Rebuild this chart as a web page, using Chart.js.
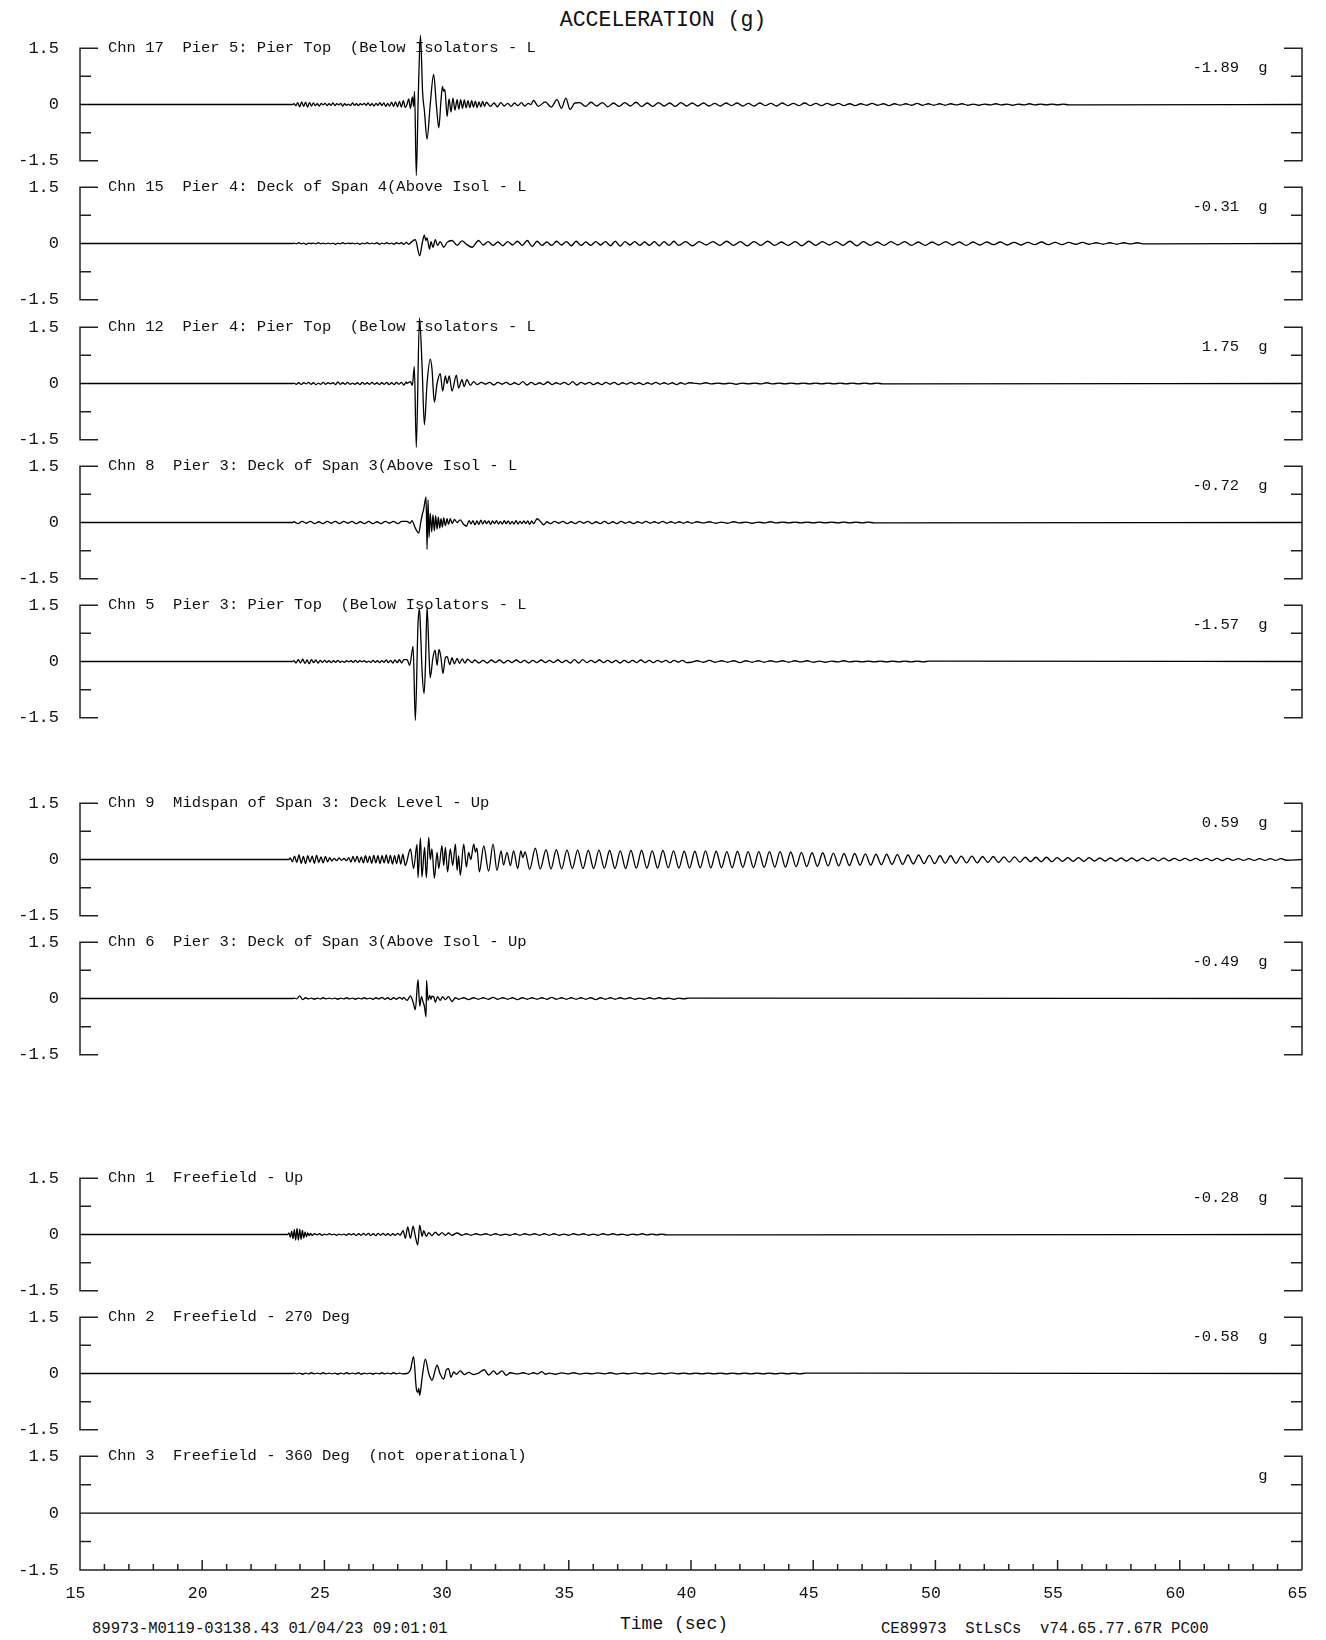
<!DOCTYPE html>
<html>
<head>
<meta charset="utf-8">
<title>ACCELERATION (g)</title>
<script src="https://cdn.jsdelivr.net/npm/chart.js@4.4.1/dist/chart.umd.min.js"></script>
<style>
  html, body { margin: 0; padding: 0; background: #fff; }
  #page { position: relative; width: 1326px; height: 1640px; overflow: hidden;
          font-family: "Liberation Mono", "DejaVu Sans Mono", monospace; color: #111; }
  #page canvas { position: absolute; left: 0; }
  .txt { position: absolute; white-space: pre; line-height: 1; }
</style>
</head>
<body>
<div id="page">
  <div class="txt" style="left:663px; top:21px; font-size:21.5px; transform:translate(-50%,-50%);">ACCELERATION (g)</div>
  <div class="txt" style="left:674px; top:1624px; font-size:18px; transform:translate(-50%,-50%);">Time (sec)</div>
  <div class="txt" style="left:92px; top:1630px; font-size:15.6px; transform:translateY(-50%);">89973-M0119-03138.43 01/04/23 09:01:01</div>
  <div class="txt" style="left:881px; top:1630px; font-size:15.6px; transform:translateY(-50%);">CE89973  StLsCs  v74.65.77.67R PC00</div>
</div>
<script>
// 1. Labels and ticks
const chnLabels = [
  'Chn 17  Pier 5: Pier Top  (Below Isolators - L',
  'Chn 15  Pier 4: Deck of Span 4(Above Isol - L',
  'Chn 12  Pier 4: Pier Top  (Below Isolators - L',
  'Chn 8  Pier 3: Deck of Span 3(Above Isol - L',
  'Chn 5  Pier 3: Pier Top  (Below Isolators - L',
  'Chn 9  Midspan of Span 3: Deck Level - Up',
  'Chn 6  Pier 3: Deck of Span 3(Above Isol - Up',
  'Chn 1  Freefield - Up',
  'Chn 2  Freefield - 270 Deg',
  'Chn 3  Freefield - 360 Deg  (not operational)'
];
const peakLabels = ['-1.89', '-0.31', '1.75', '-0.72', '-1.57', '0.59', '-0.49', '-0.28', '-0.58', ''];
const timeLabels = [15, 20, 25, 30, 35, 40, 45, 50, 55, 60, 65];
const gTicks = [-1.5, 0, 1.5];

// 2. Traces. runs = [start sec, step sec, [g values]], peaks = [sec, g]
const chn17Runs = [
  [23.75, 0.08, [0.02,-0.03,0.05,-0.06,0.07,-0.05,0.06,-0.07,0.05,-0.04,0.04,-0.03,
    0.02,-0.04,0.03,-0.01,0.03,-0.03,0.02,-0.02,0.04,-0.03,0.02,-0.01,
    0.03,-0.04,0.02,-0.02,0.01,-0.03,0.04,-0.02,0.02,-0.03,0.02,-0.01,
    0.03,-0.02,0.04,-0.03,0.02,-0.04,0.03,-0.02,0.05,-0.03,0.04,-0.05,
    0.03,-0.04,0.06,-0.05,0.07,-0.06,0.08,-0.07,0.1,-0.08]],
  [30.5, 0.075, [-0.12,0.13,-0.1,0.12,-0.09,0.1,-0.08,0.1,-0.07,0.09,-0.08,0.07,-0.06,0.08,-0.05,0.06]],
  [31.8, 0.14, [-0.05,0.04,-0.06,0.05,-0.04,0.03,-0.05,0.04,-0.03,0.05,-0.04,0.03]],
  [35.45, 0.23, [0.05,-0.05,0.06,-0.04,0.05,-0.06,0.04,-0.05,0.05,-0.04,0.06,-0.05,0.04,-0.05,0.05,-0.04,0.04,-0.05,0.05,-0.04,0.04,-0.04,
    0.04,-0.04,0.03,-0.04,0.04,-0.03,0.04,-0.04,0.03,-0.04,0.04,-0.03,0.03,-0.04,0.04,-0.03,0.03,-0.03,0.04,-0.03,0.03,-0.03,
    0.03,-0.02,0.03,-0.03,0.02,-0.03,0.02,-0.02,0.03,-0.02,0.02,-0.03,0.02,-0.02,0.02,-0.02,0.03,-0.02,0.02,-0.02,0.02,-0.02,
    0.02,-0.01,0.02,-0.02,0.01,-0.02,0.01,-0.01,0.02,-0.01,0.01,-0.02,0.01,-0.01,0.02,-0.01,0.01,-0.01,0.01,-0.01,0.01,-0.01]]
];
const chn17Peaks = [[23.7,0],[28.38,0],[28.45,0.15],[28.52,-0.1],[28.6,0.2],[28.65,-0.05],[28.69,0.35],[28.76,-1.89],
  [28.84,0.2],[28.93,1.85],[29.02,0.3],[29.09,-0.15],[29.2,-0.92],[29.33,0],[29.47,0.8],[29.58,0],[29.68,-0.62],
  [29.77,0.1],[29.83,0.48],[29.88,0.35],[29.93,0.4],[30.02,-0.32],[30.1,0.15],[30.18,-0.2],[30.26,0.17],[30.34,-0.15],
  [30.43,0.13],[33.45,0],[33.56,0.11],[33.75,-0.05],[34.04,0.07],[34.28,-0.07],[34.52,0.13],[34.7,-0.1],[34.88,0.17],
  [35.05,-0.13],[35.25,0.04]];

const chn15Runs = [
  [23.75, 0.1, [0.01,-0.01,0.02,-0.01,0.01,-0.02,0.01,0,0.01,-0.01,0.02,-0.01,0.01,-0.01,0.01,-0.01,0.01,-0.02,0.01,-0.01,
    0.02,-0.01,0.01,0,0.01,-0.01,0.01,-0.02,0.01,-0.01,0.02,-0.01,0.01,-0.01,0.02,-0.02,0.01,-0.01,0.02,-0.01,
    0.01,-0.02,0.02,-0.01,0.02,-0.02,0.03,-0.02]],
  [31.5, 0.2, [-0.04,0.05,-0.05,0.04,-0.06,0.05,-0.04,0.06,-0.05,0.08,-0.08,0.06,-0.05,0.04,-0.05,0.06,-0.04,0.05,-0.06,0.06,
    -0.05,0.04,-0.05,0.05,-0.04,0.05,-0.06,0.06,-0.07,0.05,-0.04,0.05,-0.05,0.04,-0.05,0.05,-0.06,0.05,-0.05,0.06]],
  [39.5, 0.28, [-0.05,0.05,-0.06,0.05,-0.04,0.05,-0.05,0.06,-0.05,0.05,-0.06,0.05,-0.05,0.06,-0.05,0.04,-0.05,0.05,-0.06,0.06,
    -0.05,0.05,-0.04,0.05,-0.05,0.06,-0.06,0.05,-0.05,0.04,-0.05,0.05,-0.04,0.05,-0.05,0.04,-0.05,0.04,-0.04,0.05,
    -0.04,0.04,-0.05,0.04,-0.04,0.04,-0.03,0.04,-0.04,0.03,-0.04,0.03,-0.03,0.04,-0.03,0.03,-0.03,0.03,-0.02,0.03,
    -0.02,0.02,-0.02,0.02,-0.02,0.02,-0.01,0.02,-0.01]]
];
const chn15Peaks = [[23.7,0],[28.58,0.05],[28.72,0.1],[28.9,-0.33],[29.0,0],[29.09,0.22],[29.15,0.08],[29.2,0.15],[29.3,-0.15],
  [29.36,0.05],[29.44,-0.1],[29.54,0.1],[29.63,-0.05],[29.74,0.05],[29.88,-0.1],[30.02,0.03],[30.22,0.08],[30.43,-0.05],
  [30.63,0.07],[30.83,-0.03],[31.04,-0.1],[31.31,0.08]];

const chn12Runs = [
  [23.75, 0.1, [0.01,-0.02,0.02,-0.03,0.02,-0.01,0.03,-0.02,0.02,-0.03,0.01,-0.02,0.03,-0.02,0.02,-0.01,0.02,-0.03,0.04,-0.02,
    0.02,-0.02,0.03,-0.02,0.01,-0.02,0.02,-0.03,0.03,-0.02,0.02,-0.02,0.03,-0.02,0.02,-0.03,0.02,-0.02,0.03,-0.03,
    0.02,-0.03,0.03,-0.02,0.03,-0.04,0.04]],
  [31.25, 0.17, [-0.03,0.03,-0.02,0.03,-0.04,0.03,-0.02,0.03,-0.03,0.02,-0.03,0.05,-0.04,0.03,-0.03,0.02,-0.03,0.04,-0.03,0.02,
    -0.02,0.03,-0.03,0.05,-0.04,0.03,-0.02,0.03,-0.03,0.02,-0.03,0.03,-0.02,0.03,-0.03,0.02,-0.02,0.03,-0.02,0.02,
    -0.03,0.02,-0.02,0.03,-0.02,0.02,-0.02,0.02,-0.03,0.02,-0.02,0.02]],
  [40.1, 0.25, [0.01,-0.01,0.02,-0.01,0.01,-0.01,0.01,-0.02,0.01,-0.01,0.01,-0.01,0.02,-0.01,0.01,-0.01,0.01,-0.01,0.01,-0.01,
    0.01,-0.01,0.01,-0.01,0.01,-0.01,0.01,-0.01,0.01,-0.01,0.01,-0.01]]
];
const chn12Peaks = [[23.7,0],[28.38,0],[28.52,0.05],[28.6,-0.05],[28.68,0.45],[28.76,-1.7],[28.89,1.75],[29.0,0.4],[29.09,-1.1],
  [29.2,0],[29.33,0.65],[29.4,0.4],[29.5,-0.5],[29.61,0],[29.74,0.26],[29.84,-0.2],[29.95,0.2],[30.02,0],[30.11,0.2],
  [30.22,-0.2],[30.4,0.22],[30.49,-0.12],[30.63,0.1],[30.72,-0.08],[30.83,0.1],[30.97,-0.05],[31.11,0.05]];

const chn8Runs = [
  [23.75, 0.17, [0.02,-0.03,0.03,-0.02,0.03,-0.03,0.02,-0.03,0.03,-0.02,0.03,-0.03,0.03,-0.02,0.03,-0.03,0.02,-0.03,0.03,-0.03,
    0.02,-0.03,0.03,-0.02,0.03,-0.03,0.03]],
  [31.0, 0.08, [-0.04,0.05,-0.06,0.04,-0.05,0.06,-0.04,0.05,-0.03,0.04,-0.05,0.04,-0.03,0.05,-0.04,0.03,-0.04,0.05,-0.03,0.04,
    -0.04,0.03,-0.04,0.05,-0.04,0.03,-0.03,0.04,-0.03,0.04,-0.05,0.04,-0.03]],
  [34.25, 0.17, [-0.03,0.03,-0.02,0.03,-0.03,0.02,-0.03,0.03,-0.02,0.03,-0.03,0.02,-0.03,0.03,-0.03,0.02,-0.03,0.03,-0.02,0.02,
    -0.03,0.02,-0.02,0.03,-0.02,0.02,-0.02,0.03,-0.02,0.02,-0.02,0.02,-0.02,0.02,-0.02]],
  [40.25, 0.25, [0.02,-0.01,0.02,-0.02,0.01,-0.02,0.02,-0.01,0.01,-0.02,0.01,-0.01,0.02,-0.01,0.01,-0.01,0.01,-0.01,0.01,-0.01,
    0.01,-0.01,0.01,-0.01,0.01,-0.01,0.01,-0.01,0.01,-0.01]]
];
const chn8Peaks = [[23.7,0],[28.38,0.03],[28.5,-0.02],[28.58,0.05],[28.72,-0.15],[28.86,-0.28],[28.94,0],[29.0,0.2],[29.06,0.35],
  [29.16,0.68],[29.2,-0.72],[29.24,0.6],[29.28,-0.4],[29.33,0.25],[29.39,-0.25],[29.44,0.2],[29.5,-0.22],[29.55,0.18],
  [29.61,-0.18],[29.66,0.15],[29.72,-0.15],[29.77,0.1],[29.83,-0.12],[29.88,0.12],[29.95,-0.08],[30.02,0.1],[30.08,-0.05],
  [30.15,0.1],[30.23,-0.03],[30.32,0.08],[30.43,0],[30.56,0.07],[30.7,-0.05],[30.81,-0.1],[30.92,0.05],
  [33.7,0.1],[33.85,0.02],[33.97,-0.06],[34.1,0.02]];

const chn5Runs = [
  [23.75, 0.09, [0.02,-0.04,0.05,-0.04,0.06,-0.05,0.04,-0.06,0.05,-0.03,0.04,-0.04,0.03,-0.02,0.03,-0.02,0.02,-0.03,0.02,-0.02,
    0.03,-0.02,0.01,-0.02,0.02,-0.01,0.02,-0.02,0.03,-0.02,0.02,-0.01,0.02,-0.02,0.01,-0.02,0.03,-0.02,0.02,-0.03,
    0.02,-0.02,0.04,-0.03,0.03,-0.04,0.04,-0.03,0.05,-0.04,0.05]],
  [31.15, 0.17, [0.04,-0.04,0.03,-0.04,0.04,-0.03,0.04,-0.04,0.03,-0.03,0.04,-0.03,0.03,-0.04,0.03,-0.03,0.04,-0.03,0.03,-0.03,
    0.04,-0.03,0.03,-0.04,0.05,-0.04,0.05,-0.03,0.03,-0.03,0.04,-0.03,0.03,-0.03,0.03,-0.04,0.03,-0.03,0.03,-0.03,
    0.04,-0.03,0.03,-0.03,0.03,-0.02,0.03,-0.03,0.03,-0.02,0.03,-0.03]],
  [40.0, 0.25, [-0.02,0.02,-0.02,0.03,-0.02,0.02,-0.02,0.02,-0.03,0.02,-0.02,0.02,-0.02,0.02,-0.01,0.02,-0.02,0.02,-0.01,0.02,
    -0.02,0.01,-0.02,0.01,-0.01,0.02,-0.01,0.01,-0.01,0.01,-0.01,0.01,-0.01,0.01,-0.01,0.01,-0.01,0.01,-0.01,0.01]]
];
const chn5Peaks = [[23.7,0],[28.38,0.05],[28.49,-0.1],[28.63,0.4],[28.72,-1.57],[28.83,1.0],[28.89,1.4],[28.93,0.9],[29.0,-0.3],
  [29.08,-0.85],[29.14,0],[29.2,1.45],[29.28,0.2],[29.33,-0.43],[29.44,0.1],[29.53,0.3],[29.61,-0.1],[29.69,0.32],
  [29.77,0.1],[29.85,-0.32],[29.95,0.1],[30.02,0.13],[30.13,-0.08],[30.22,0.1],[30.32,-0.06],[30.43,0.08],[30.53,-0.05],
  [30.64,0.07],[30.75,-0.04],[30.86,0.06],[31.04,-0.03]];

const chn9Runs = [
  [23.6, 0.09, [0.04,-0.06,0.09,-0.08,0.12,-0.1,0.08,-0.11,0.1,-0.07,0.09,-0.1,0.11,-0.08,0.07,-0.09,0.08,-0.06,0.05]],
  [25.3, 0.1, [-0.04,0.03,-0.03,0.04,-0.02,0.03,-0.03]],
  [26.0, 0.085, [0.05,-0.07,0.08,-0.06,0.09,-0.08,0.07,-0.09,0.1,-0.08,0.09,-0.1,0.11,-0.09,0.1,-0.11,0.1,-0.09,0.12,-0.1,
    0.11,-0.12,0.1,-0.11,0.13,-0.12,0.14]],
  [34.49, 0.218, [0.26,-0.25,0.25,-0.24,0.25,-0.24,0.24,-0.24,0.25,-0.23,0.24,-0.24,0.23,-0.24,0.24,-0.23,0.24,-0.23,0.23,-0.23,
    0.24,-0.22,0.23,-0.23,0.22,
    -0.23,0.22,-0.22,0.23,-0.22,0.22,-0.22,0.21,-0.22,0.22,-0.21,0.21,-0.22,0.21,-0.21,0.21,-0.2,0.21,
    -0.2,0.2,-0.19,0.19,-0.19,0.18,-0.18,0.18,-0.17,0.17,-0.17,0.16,-0.16,0.16,-0.15,0.15,-0.15,0.14,
    -0.14,0.14,-0.13,0.13,-0.13,0.12,-0.12,0.12,-0.11,0.11,-0.11,0.1,-0.1,0.1,-0.1,0.09,-0.09,0.09,
    -0.09,0.08,-0.08,0.08,-0.08,0.07,-0.07,0.07,-0.07,0.06,-0.06,0.06,-0.06,0.06,-0.06,0.05,-0.05,0.05,
    -0.05,0.05,-0.05,0.05,-0.04,0.04,-0.04,0.04,-0.04,0.04,-0.04,0.04,-0.04,0.035,-0.035,0.035,-0.035,0.035,
    -0.035,0.03,-0.03,0.03,-0.03,0.03,-0.03,0.03,-0.03,0.03,-0.03,0.03,-0.025,0.025,-0.025,0.025,-0.025,0.025,
    -0.025,0.025,-0.025,0.025,-0.02]]
];
const chn9Peaks = [[23.55,0],[28.31,-0.16],[28.52,0.28],[28.65,-0.24],[28.79,0.4],[28.83,-0.48],[28.93,0.57],[28.99,-0.46],
  [29.1,0.32],[29.17,-0.48],[29.27,0.59],[29.33,0],[29.4,0.28],[29.5,-0.5],[29.61,0.19],[29.68,-0.24],[29.81,0.37],
  [29.88,-0.16],[29.95,0.32],[30.04,-0.33],[30.15,0.28],[30.25,-0.16],[30.36,0.41],[30.43,-0.29],[30.49,0.1],[30.56,-0.42],
  [30.7,0.41],[30.81,-0.2],[30.9,0.19],[30.99,0],[31.11,0.41],[31.18,0.2],[31.24,0.3],[31.34,-0.33],[31.52,0.36],
  [31.72,-0.31],[31.9,0.41],[32.06,-0.29],[32.23,0.23],[32.33,-0.15],[32.47,0.19],[32.61,-0.16],[32.74,0.23],[32.91,-0.24],
  [33.04,0.23],[33.12,0.05],[33.21,0.2],[33.4,-0.26],[33.63,0.3],[33.83,-0.25],[34.07,0.26],[34.27,-0.25]];

const chn6Runs = [
  [23.75, 0.12, [0.01,-0.01,0.07,-0.03,0.02,-0.01,0.01,-0.02,0.01,-0.01,0.02,-0.01,0.01,-0.01,0.01,-0.02,0.01,-0.01,0.02,-0.01,
    0.01,-0.02,0.01,-0.01,0.02,-0.01,0.01,-0.02,0.02,-0.01,0.03,-0.02,0.02,-0.03,0.02,-0.02,0.03,-0.02]],
  [30.5, 0.2, [-0.02,0.02,-0.03,0.02,-0.02,0.02,-0.02,0.03,-0.02,0.02,-0.02,0.02,-0.03,0.02,-0.02,0.02,-0.02,0.02,-0.02,0.03,
    -0.02,0.02,-0.02,0.02,-0.02,0.02,-0.02,0.02,-0.03,0.02,-0.02,0.02,-0.02,0.02,-0.01,0.02,-0.02,0.01,-0.02,0.02,
    -0.01,0.02,-0.01,0.01,-0.02,0.01,-0.01,0.01]]
];
const chn6Peaks = [[23.7,0],[28.24,0.03],[28.38,-0.05],[28.52,0.07],[28.63,-0.1],[28.72,-0.3],[28.83,0.5],[28.9,-0.2],[28.97,0.05],
  [29.04,-0.1],[29.09,-0.2],[29.16,-0.49],[29.18,0.48],[29.24,-0.05],[29.31,0.08],[29.36,-0.02],[29.4,0.06],[29.47,0.05],
  [29.54,-0.1],[29.63,0.05],[29.74,-0.05],[29.84,0.05],[29.95,-0.03],[30.08,0.05],[30.22,-0.08],[30.36,0.02]];

const chn1Runs = [
  [23.55, 0.055, [0.04,-0.07,0.09,-0.11,0.13,-0.15,0.16,-0.15,0.14,-0.13,0.11,-0.09,0.07,-0.06,0.04,-0.03,0.03]],
  [24.5, 0.1, [-0.02,0.02,-0.01,0.02,-0.02,0.01,-0.01,0.02,-0.01,0.01,-0.02,0.01,-0.01,0.01,-0.02,0.02,-0.01,0.02,-0.03,0.02,
    -0.02,0.03,-0.02,0.03,-0.03,0.02,-0.03,0.03,-0.02,0.03,-0.02,0.02,-0.03,0.02,-0.02,0.03,-0.02]],
  [30.8, 0.2, [0.02,-0.02,0.02,-0.01,0.02,-0.02,0.02,-0.02,0.01,-0.02,0.02,-0.02,0.02,-0.01,0.02,-0.02,0.02,-0.02,0.02,-0.02,
    0.01,-0.02,0.02,-0.01,0.02,-0.02,0.01,-0.02,0.02,-0.01,0.02,-0.01,0.01,-0.02,0.01,-0.01,0.02,-0.01,0.01,-0.01,
    0.01,-0.01]]
];
const chn1Peaks = [[23.5,0],[28.15,0.03],[28.22,0.1],[28.31,-0.1],[28.41,0.2],[28.52,-0.1],[28.63,0.22],[28.72,-0.05],[28.82,-0.28],
  [28.9,0.25],[29.0,-0.05],[29.06,0.1],[29.17,-0.05],[29.27,0.05],[29.4,-0.03],[29.54,0.06],[29.68,-0.02],[29.81,0.05],
  [29.95,-0.02],[30.08,0.04],[30.22,-0.02],[30.43,0.04],[30.63,-0.02]];

const chn2Runs = [
  [23.75, 0.12, [0.01,-0.01,0.01,-0.02,0.01,-0.01,0.02,-0.01,0.01,-0.01,0.02,-0.01,0.01,-0.01,0.01,-0.02,0.01,-0.01,0.02,-0.01,
    0.01,-0.01,0.02,-0.02,0.01,-0.01,0.01,-0.02,0.01,-0.01,0.02,-0.01,0.01,-0.01,0.02,-0.01,0.01,-0.01]],
  [34.2, 0.25, [0.01,-0.02,0.015,-0.01,0.02,-0.015,0.01,-0.01,0.015,-0.01,0.02,-0.015,0.01,-0.01,0.015,-0.01,0.01,-0.015,0.01,-0.01,
    0.015,-0.01,0.01,-0.01,0.01,-0.01,0.01,-0.01,0.01,-0.01,0.01,-0.01,0.01,-0.01,0.01,-0.01,0.01,-0.01,0.01,-0.01,
    0.01,-0.01,0.01]]
];
const chn2Peaks = [[23.7,0],[28.38,0],[28.52,0.1],[28.65,0.45],[28.76,-0.4],[28.82,-0.5],[28.86,-0.4],[28.9,-0.58],[29.0,-0.1],
  [29.13,0.38],[29.27,0],[29.4,-0.18],[29.61,0.22],[29.74,-0.02],[29.88,-0.15],[29.99,0.1],[30.08,0.13],[30.18,-0.1],
  [30.29,0.04],[30.4,-0.02],[30.56,0.07],[30.73,-0.03],[30.9,0.03],[31.11,-0.03],[31.31,0.01],[31.54,0.1],[31.72,-0.04],
  [31.93,0.07],[32.06,-0.02],[32.27,0.07],[32.44,-0.05],[32.61,0.02],[32.88,-0.01],[33.15,0.02],[33.36,-0.02],[33.56,0.02],
  [33.72,-0.01],[33.9,0.05],[34.04,-0.02]];

// Chn 3 was not operational: flat line
const chn3Runs = [];
const chn3Peaks = [];

const chnRuns = [chn17Runs, chn15Runs, chn12Runs, chn8Runs, chn5Runs, chn9Runs, chn6Runs, chn1Runs, chn2Runs, chn3Runs];
const chnPeaks = [chn17Peaks, chn15Peaks, chn12Peaks, chn8Peaks, chn5Peaks, chn9Peaks, chn6Peaks, chn1Peaks, chn2Peaks, chn3Peaks];

// 3. Layout (pixels)
const panelZeroY = [104.5, 243.8, 383.1, 522.4, 661.7, 859.6, 998.9, 1234, 1373.3, 1512.6];
const PANEL_H = 115;
const PAD_TOP = 30;
const PAD_BOTTOM = 30;
const X_AXIS_H = 60;
const FONT = '"Liberation Mono", "DejaVu Sans Mono", monospace';

// 4. Build [sec, g] points
function buildTrace(runs, peaks) {
  const pts = [[15, 0]];
  runs.forEach(function(run) {
    const t0 = run[0], dt = run[1];
    run[2].forEach((v, i) => pts.push([Math.round((t0 + i * dt) * 1000) / 1000, v]));
  });
  peaks.forEach(p => pts.push(p));
  pts.push([65, 0]);
  pts.sort((a, b) => a[0] - b[0]);
  return pts;
}

// 5. Panel frame, labels, time ticks
const framePlugin = {
  id: 'frame',
  afterDatasetsDraw(chart, args, opts) {
    const { ctx, chartArea: a, scales: { x, y } } = chart;
    const top = y.getPixelForValue(1.5), bot = y.getPixelForValue(-1.5);
    const up = y.getPixelForValue(0.75), dn = y.getPixelForValue(-0.75);
    ctx.save();
    ctx.strokeStyle = '#222';
    ctx.lineWidth = 1.5;
    ctx.beginPath();
    ctx.moveTo(a.left + 18, top); ctx.lineTo(a.left, top); ctx.lineTo(a.left, bot);
    ctx.lineTo(opts.axis ? a.right : a.left + 18, bot);
    ctx.moveTo(a.left, up); ctx.lineTo(a.left + 11, up);
    ctx.moveTo(a.left, dn); ctx.lineTo(a.left + 11, dn);
    ctx.moveTo(a.right - 18, top); ctx.lineTo(a.right, top); ctx.lineTo(a.right, bot);
    if (!opts.axis) ctx.lineTo(a.right - 18, bot);
    ctx.moveTo(a.right, up); ctx.lineTo(a.right - 11, up);
    ctx.moveTo(a.right, dn); ctx.lineTo(a.right - 11, dn);
    if (opts.axis) {
      for (let t = x.min; t <= x.max; t++) {
        const px = x.getPixelForValue(t);
        ctx.moveTo(px, bot);
        ctx.lineTo(px, bot - (t % 5 === 0 ? 10 : 6));
      }
    }
    ctx.stroke();

    ctx.fillStyle = '#111';
    ctx.font = '15.5px ' + FONT;
    ctx.textBaseline = 'middle';
    ctx.textAlign = 'left';
    ctx.fillText(opts.label, a.left + 28, top);
    const py = y.getPixelForValue(0.97);
    ctx.textAlign = 'right';
    ctx.fillText(opts.peak, a.right - 63, py);
    ctx.textAlign = 'center';
    ctx.fillText('g', a.right - 39, py);
    ctx.restore();
  }
};

// 6. One chart per channel
const page = document.getElementById('page');
chnLabels.forEach(function(label, i) {
  const last = i === chnLabels.length - 1;
  const canvas = document.createElement('canvas');
  canvas.width = 1326;
  canvas.height = PAD_TOP + PANEL_H + (last ? X_AXIS_H : PAD_BOTTOM);
  canvas.style.top = Math.round(panelZeroY[i] - PANEL_H / 2 - PAD_TOP) + 'px';
  page.appendChild(canvas);

  new Chart(canvas, {
    type: 'line',
    data: {
      datasets: [{
        data: buildTrace(chnRuns[i], chnPeaks[i]),
        borderColor: '#000',
        borderWidth: 1.3,
        pointRadius: 0,
        cubicInterpolationMode: 'monotone',
        clip: false
      }]
    },
    options: {
      responsive: false,
      animation: false,
      devicePixelRatio: 1,
      events: [],
      layout: { padding: { top: PAD_TOP, bottom: last ? 0 : PAD_BOTTOM, left: 0, right: 24 } },
      plugins: {
        legend: { display: false },
        tooltip: { enabled: false },
        frame: { label: label, peak: peakLabels[i], axis: last }
      },
      scales: {
        x: {
          type: 'linear', min: 15, max: 65, display: last, position: 'bottom',
          grid: { display: false, drawTicks: false },
          border: { display: false },
          afterBuildTicks: s => { s.ticks = timeLabels.map(v => ({ value: v })); },
          afterFit: s => { s.height = last ? X_AXIS_H : 0; },
          ticks: { autoSkip: false, maxRotation: 0, padding: 14, labelOffset: -4.5,
                   color: '#111', font: { family: FONT, size: 16.5 } }
        },
        y: {
          min: -1.5, max: 1.5,
          grid: { display: false, drawTicks: false },
          border: { display: false },
          afterBuildTicks: s => { s.ticks = gTicks.map(v => ({ value: v })); },
          afterFit: s => { s.width = 80; },
          ticks: { padding: 21, color: '#111', font: { family: FONT, size: 17 },
                   callback: v => String(v) }
        }
      }
    },
    plugins: [framePlugin]
  });
});
</script>
</body>
</html>
